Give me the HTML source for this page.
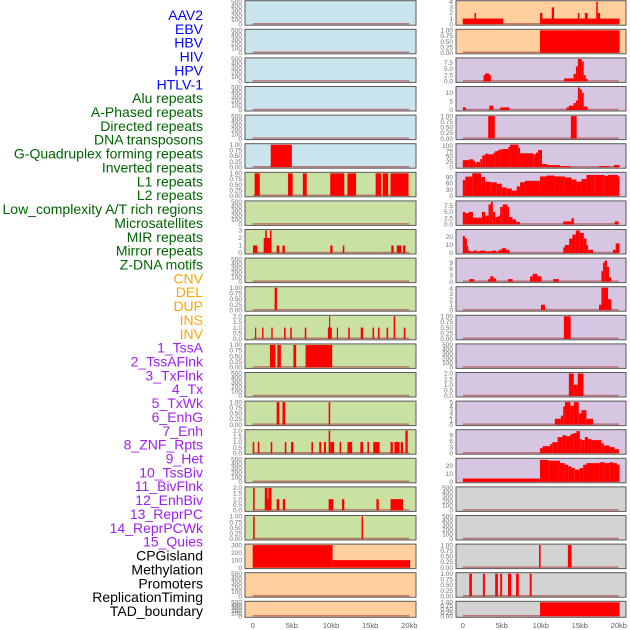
<!DOCTYPE html>
<html><head><meta charset="utf-8"><style>
html,body{margin:0;padding:0;background:#fff}
svg{display:block}
</style></head><body>
<svg id="chart" width="630" height="630" xmlns="http://www.w3.org/2000/svg" font-family="Liberation Sans, sans-serif"></svg>
<script>
// ---------- labels ----------
const labelNames = ["AAV2","EBV","HBV","HIV","HPV","HTLV-1","Alu repeats","A-Phased repeats","Directed repeats","DNA transposons","G-Quadruplex forming repeats","Inverted repeats","L1 repeats","L2 repeats","Low_complexity A/T rich regions","Microsatellites","MIR repeats","Mirror repeats","Z-DNA motifs","CNV","DEL","DUP","INS","INV","1_TssA","2_TssAFlnk","3_TxFlnk","4_Tx","5_TxWk","6_EnhG","7_Enh","8_ZNF_Rpts","9_Het","10_TssBiv","11_BivFlnk","12_EnhBiv","13_ReprPC","14_ReprPCWk","15_Quies","CPGisland","Methylation","Promoters","ReplicationTiming","TAD_boundary"];
const labelGroups = [6,13,5,15,5];
const groupColors = ["#0000ff","#006400","#ffa500","#a020f0","#000000"];
const xTicks = [0,5,10,15,20];
const xTickLabels = ["0","5kb","10kb","15kb","20kb"];

// ---------- tick sets ----------
const T500v=[0,100,200,300,400,500], T500s=["0","100","200","300","400","500"];
const T1v=[0,0.25,0.5,0.75,1], T1s=["0.00","0.25","0.50","0.75","1.00"];
const T2v=[0,0.5,1,1.5,2], T2s=["0.0","0.5","1.0","1.5","2.0"];

// ---------- left column data [startKb,endKb,value] ----------
const L_G4 = [[2.3,5.0,1]];
const L_L1 = [[0.25,0.9,1],[4.5,5.1,1],[6.4,6.9,1],[9.9,11.7,1],[12.1,13.2,1],[15.7,16.4,1],[16.6,17.3,1],[17.6,19.9,1]];
const L_LowC = [[0.04,0.6,1],[1.4,2.4,2],[1.6,1.8,3],[2.2,2.4,3],[3.06,3.4,1],[3.8,4.1,1],[9.9,10.2,1],[11.5,11.7,1],[17.7,18.0,1],[18.4,19.0,1],[19.2,19.5,1]];
const L_MIR = [[2.8,3.1,1]];
const L_Mirror = [[0.3,0.45,1],[1.2,1.38,1],[2.38,2.55,1],[4.0,4.2,1],[4.8,5.0,1],[6.65,6.85,1],[9.6,10.1,1],[9.75,9.9,2],[10.75,10.9,1],[12.2,12.4,1],[13.8,14.1,1],[15.3,15.5,1],[16.0,16.2,1],[17.1,17.3,1],[18.0,18.2,2],[19.3,19.5,1]];
const L_ZDNA = [[2.2,2.9,1],[3.15,3.6,1],[5.2,5.55,1],[6.75,10.15,1]];
const L_DEL = [[3.06,3.4,1],[3.8,4.15,1],[9.7,9.9,1]];
const L_DUP = [[0,0.2,1],[0.65,0.85,1],[2.3,2.5,1],[4.1,4.3,1],[4.9,5.2,1],[7.5,7.7,1],[8.5,8.75,1],[9.1,9.35,1],[9.9,10.4,1],[9.7,9.9,2],[11.1,11.3,1],[12.1,12.7,1],[13.75,14.1,1],[14.65,14.85,1],[15.4,16.2,1],[17.6,17.9,1],[18.1,18.75,1],[18.9,19.2,1],[19.5,19.8,2]];
const L_INV = [[0.05,0.25,2],[1.55,2.4,1],[1.55,1.9,2],[2.0,2.4,2],[3.06,3.4,1],[3.85,4.15,1],[9.7,10.3,1],[11.4,11.7,1],[15.8,16.1,1],[17.6,19.1,1],[18.85,19.2,1]];
const L_TssA = [[0.05,0.25,1],[13.9,14.1,1]];
const L_CpG = [[0,10.2,300],[10.2,20.1,100]];

// ---------- right column data ----------
const R_AAV2 = [[0,5.2,1],[1.5,1.7,2],[9.9,20.1,1],[9.9,10.2,2],[11.4,11.7,3],[14.75,14.95,2],[15.65,16.0,2],[17.1,17.3,4],[17.3,17.6,2]];
const R_EBV = [[9.9,20.1,1]];
const R_HIV = [[2.65,3.6,2.5],[2.85,3.4,3.2],[13.0,14.2,1.2],[14.2,14.5,3],[14.5,14.75,6],[14.75,15.25,9],[15.25,15.5,8],[15.5,15.75,2.5],[15.75,16.0,1]];
const R_HPV = [[0,0.4,1.5],[3.4,3.9,2.5],[4.8,5.95,1.5],[13.3,13.6,1.5],[13.6,14.2,2.5],[14.2,14.5,4],[14.5,14.75,5.5],[14.75,15.0,13],[15.0,15.25,12],[15.25,15.5,10],[15.5,16.0,2]];
const R_HTLV = [[3.25,4.1,1],[13.85,14.6,1]];
const R_AluEdges = [0,0.83,1.34,1.6,1.8,2.23,2.49,2.87,3.3,3.94,4.15,4.57,5.0,5.85,6.06,7.13,7.34,7.77,9.04,9.38,9.64,10.15,10.83,12.45,13.8,17.47,18.8,19.38,20.1];
const R_AluVals = [33,37,30,20,25,38,55,63,60,68,75,82,85,95,105,90,65,65,60,68,80,15,10,5,0,5,0,10];
const R_APhEdges = [0,0.32,1.21,2.36,2.87,3.51,4.36,5.0,5.64,6.28,6.91,7.34,7.98,9.89,10.74,11.81,13.09,13.94,14.57,15.21,15.85,16.91,18.19,18.62,19.89,20.1];
const R_APhVals = [75,92,108,90,68,65,58,40,35,25,45,65,72,93,97,93,88,78,68,80,100,100,95,100,93];
const R_DirEdges = [0,0.32,0.74,1.3,2.45,2.87,3.3,3.6,3.85,4.15,4.57,4.79,5.13,5.72,5.94,6.36,6.83,7.34,12.87,13.94,14.23,19.47,19.98];
const R_DirVals = [5,4.5,5,2.7,5,3.5,8,9,5,3,3.5,7,8,7,3,2,1,0,1.2,2.5,0,1.2];
const R_DnaEdges = [0,0.28,0.53,0.7,0.96,1.38,1.81,2.23,2.87,3.72,4.28,4.62,5.0,5.55,5.98,12.87,13.09,13.64,14.06,14.49,15.0,15.51,15.85,16.06,16.7,19.26,19.6,20.1];
const R_DnaVals = [21,18,9,3,2,3,2,3,2,3,2,4,6,4,0,7,10,18,23,28,25,18,10,4,0,4,12];
const R_G4 = [[0.83,1.47,1.2],[3.26,3.51,1.2],[3.51,3.94,2.5],[3.94,4.28,1.5],[5.77,6.4,1.2],[8.62,8.96,2.5],[8.96,9.55,3.7],[9.55,10.1,2.5],[11.6,12.3,1.2],[17.77,17.98,5],[17.98,18.19,9],[18.19,18.49,10],[18.49,18.74,7],[18.74,19.04,2]];
const R_Inv = [[10.02,10.53,1],[17.47,17.77,1],[17.77,18.62,4.5],[18.62,19.04,2]];
const R_L1 = [[12.96,13.82,1]];
const R_LowC = [[13.6,14.23,2],[14.23,14.74,1],[14.74,15.47,2]];
const R_Micro = [[11.8,12.57,1.3],[12.57,12.87,2],[12.87,13.09,4],[13.09,13.8,5],[13.8,14.23,4.2],[14.23,14.87,5],[14.87,15.21,2.5],[15.21,15.85,3.2],[15.85,16.7,1.3]];
const R_MIREdges = [9.89,10.23,11.17,11.47,12.15,12.79,13.21,13.81,14.15,14.57,15.0,15.25,15.64,16.06,16.49,17.77,18.06,18.83,19.47,20.02];
const R_MIRVals = [2.5,3.5,4.5,5.5,8,9,8.5,9.5,10,11,7,6.5,8,7,6.5,5,3.8,3,2];
const R_MirEdges = [0,9.89,10.96,12.45,13.09,13.51,13.94,14.36,15.0,15.43,15.85,17.55,18.19,18.83,19.26,19.77,20.1];
const R_MirVals = [4,27,26,23,21,19,17,15,17,21,23,24,23,24,23,21];
const R_Enh = [[9.77,9.98,1],[13.47,13.95,1]];
const R_Het = [[0.83,1.17,1],[2.58,2.83,1],[4.15,4.5,1],[4.8,5.04,1],[5.8,6.2,1],[6.83,7.18,1],[8.58,8.83,1]];
const R_TssBiv = [[9.9,20.1,1]];

function steps(edges, vals){ const out=[]; for(let i=0;i<vals.length;i++) out.push([edges[i],edges[i+1],vals[i]]); return out; }

const BLUE="#c9e4ec", GREEN="#c9e1a3", ORANGE="#ffd09e", PURPLE="#d6c6e2", GRAY="#d3d3d3";
const E=[];
const leftPanels = [
 [BLUE,T500v,T500s,500,E],[BLUE,T500v,T500s,500,E],[BLUE,T500v,T500s,500,E],[BLUE,T500v,T500s,500,E],[BLUE,T500v,T500s,500,E],
 [BLUE,T1v,T1s,1,L_G4],
 [GREEN,T1v,T1s,1,L_L1],
 [GREEN,T500v,T500s,500,E],
 [GREEN,[0,1,2,3],["0","1","2","3"],3,L_LowC],
 [GREEN,T500v,T500s,500,E],
 [GREEN,T1v,T1s,1,L_MIR],
 [GREEN,T2v,T2s,2,L_Mirror],
 [GREEN,T1v,T1s,1,L_ZDNA],
 [GREEN,T500v,T500s,500,E],
 [GREEN,T1v,T1s,1,L_DEL],
 [GREEN,T2v,T2s,2,L_DUP],
 [GREEN,T500v,T500s,500,E],
 [GREEN,T2v,T2s,2,L_INV],
 [GREEN,T1v,T1s,1,L_TssA],
 [ORANGE,[0,100,200,300],["0","100","200","300"],300,L_CpG],
 [ORANGE,T500v,T500s,500,E],
 [ORANGE,T500v,T500s,500,E]
];
const rightPanels = [
 [ORANGE,[0,1,2,3,4],["0","1","2","3","4"],4,R_AAV2],
 [ORANGE,T1v,T1s,1,R_EBV],
 [PURPLE,[0,2.5,5,7.5],["0.0","2.5","5.0","7.5"],9,R_HIV],
 [PURPLE,[0,5,10],["0","5","10"],13,R_HPV],
 [PURPLE,T1v,T1s,1,R_HTLV],
 [PURPLE,[0,25,50,75,100],["0","25","50","75","100"],105,steps(R_AluEdges,R_AluVals)],
 [PURPLE,[0,30,60,90],["0","30","60","90"],108,steps(R_APhEdges,R_APhVals)],
 [PURPLE,[0,2.5,5,7.5],["0.0","2.5","5.0","7.5"],9,steps(R_DirEdges,R_DirVals)],
 [PURPLE,[0,10,20],["0","10","20"],28,steps(R_DnaEdges,R_DnaVals)],
 [PURPLE,[0,3,6,9],["0","3","6","9"],10.7,R_G4],
 [PURPLE,[0,1,2,3,4],["0","1","2","3","4"],4.1,R_Inv],
 [PURPLE,T1v,T1s,1,R_L1],
 [PURPLE,T500v,T500s,500,E],
 [PURPLE,T2v,T2s,2,R_LowC],
 [PURPLE,[0,1,2,3,4,5],["0","1","2","3","4","5"],5,R_Micro],
 [PURPLE,[0,3,6,9],["0","3","6","9"],11.2,steps(R_MIREdges,R_MIRVals)],
 [PURPLE,[0,10,20],["0","10","20"],27.7,steps(R_MirEdges,R_MirVals)],
 [GRAY,T500v,T500s,500,E],
 [GRAY,T500v,T500s,500,E],
 [GRAY,T1v,T1s,1,R_Enh],
 [GRAY,T1v,T1s,1,R_Het],
 [GRAY,T1v,T1s,1,R_TssBiv]
];

const NS="http://www.w3.org/2000/svg";
const svg=document.getElementById("chart");
function mk(tag,attrs,parent){ const e=document.createElementNS(NS,tag); for(const k in attrs) e.setAttribute(k,attrs[k]); (parent||svg).appendChild(e); return e; }

// labels
let li=0;
labelGroups.forEach((n,g)=>{ for(let k=0;k<n;k++){ const t=mk("text",{x:203,y:(15+li*13.86+5).toFixed(1),"text-anchor":"end","font-size":"14",fill:groupColors[g]}); t.textContent=labelNames[li];
 
 
 li++; } });

function rowTop(i){ return 0.7+i*28.6; }
function rowH(i){ return i===21?16:24.5; }

function drawCol(panels, px0, px1, x0px, pxPerKb, tickX, side){
  const xs = kb => x0px + kb*pxPerKb;
  panels.forEach((p,i)=>{
    const [bg,tv,ts,ymax,data]=p;
    const top=rowTop(i), h=rowH(i), bot=top+h;
    const ys = v => (bot-1) - Math.min(v,ymax)/ymax*(h-2);
    const g=mk("g",{});
    
    
    const r=mk("rect",{x:px0,y:top,width:px1-px0,height:h,fill:bg,stroke:"#5a5a5a","stroke-width":1},g);
    
    
    mk("line",{x1:xs(0),x2:xs(20),y1:bot-1.5,y2:bot-1.5,stroke:"#b05050","stroke-width":1.5,opacity:0.7},g);
    data.forEach(d=>{
      const x=xs(d[0]), w=Math.max(1, xs(d[1])-xs(d[0])), y=ys(d[2]);
      const b=mk("rect",{x:x.toFixed(2),y:y.toFixed(2),width:w.toFixed(2),height:(bot-1-y).toFixed(2),fill:"#ff0000"},g);
      
      
    });
    tv.forEach((v,k)=>{
      const t=mk("text",{x:tickX,y:(ys(v)+2.2).toFixed(1),"text-anchor":"end","font-size":"6.5",fill:"#707070"},g);
      t.textContent=ts[k];
      
      
    });
  });
  xTicks.forEach((v,k)=>{
    const t=mk("text",{x:xs(v),y:628,"text-anchor":"middle","font-size":"7.5",fill:"#606060"});
    t.textContent=xTickLabels[k];
    
    
  });
}
drawCol(leftPanels,245,416,252.7,7.83,242,'left');
drawCol(rightPanels,456,626,462.8,7.8,453,'right');
</script>
</body></html>
